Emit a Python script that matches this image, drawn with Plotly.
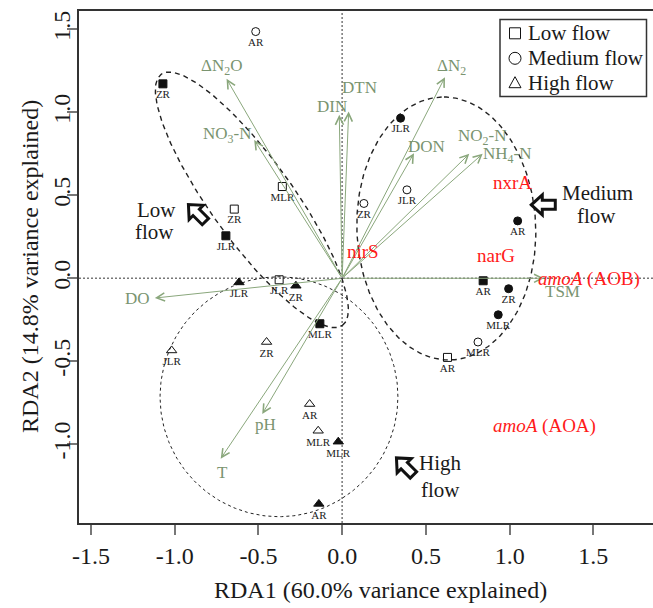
import numpy as np
import plotly.graph_objects as go

FONT = "Liberation Serif"
GREEN_TXT = "#7a9470"
GREEN_LN = "#8aa77c"

# ---------------- site scores ----------------
low_sites = ["ZR", "MLR", "ZR", "JLR", "JLR", "MLR", "AR", "AR"]
low_x = [-1.070, -0.357, -0.644, -0.694, -0.376, -0.133, 0.842, 0.629]
low_y = [1.172, 0.553, 0.417, 0.256, -0.009, -0.274, -0.015, -0.477]
low_filled = [True, False, False, True, False, True, True, False]

med_sites = ["AR", "JLR", "JLR", "ZR", "AR", "ZR", "MLR", "MLR"]
med_x = [-0.516, 0.349, 0.387, 0.130, 1.048, 0.994, 0.932, 0.811]
med_y = [1.487, 0.965, 0.533, 0.451, 0.346, -0.063, -0.220, -0.384]
med_filled = [False, True, False, False, True, True, True, False]

high_sites = ["JLR", "ZR", "JLR", "ZR", "AR", "MLR", "MLR", "AR"]
high_x = [-0.616, -0.276, -1.018, -0.451, -0.194, -0.143, -0.023, -0.139]
high_y = [-0.025, -0.045, -0.435, -0.384, -0.758, -0.919, -0.985, -1.360]
high_filled = [True, True, False, False, False, False, True, True]

# ---------------- environmental vectors ----------------
env_labels = ["ΔN<sub>2</sub>O", "NO<sub>3</sub>-N", "DIN", "DTN", "ΔN<sub>2</sub>", "DON",
              "NO<sub>2</sub>-N", "NH<sub>4</sub>-N", "DO", "pH", "T", "TSM"]
env_x = [-0.690, -0.525, -0.017, 0.039, 0.614, 0.429, 0.759, 0.839, -1.118, -0.477, -0.725, 1.205]
env_y = [1.202, 0.834, 0.985, 1.005, 1.212, 0.754, 0.750, 0.750, -0.119, -0.818, -1.087, 0.000]
env_lab_x = [-0.718, -0.688, -0.061, 0.106, 0.655, 0.506, 0.834, 0.985, -1.219, -0.455, -0.712, 1.318]
env_lab_y = [1.274, 0.864, 1.033, 1.148, 1.274, 0.792, 0.852, 0.744, -0.123, -0.882, -1.172, -0.081]

# ---------------- functional genes ----------------
sp_labels = ["nxrA", "nirS", "narG", "<i>amoA</i> (AOB)", "<i>amoA</i> (AOA)"]
sp_x = [1.020, 0.126, 0.916, 1.472, 1.211]
sp_y = [0.575, 0.161, 0.137, -0.003, -0.893]

# ---------------- group ellipses (cx, cy, a, b, angle) ----------------
ell_low = [-0.539, 0.473, 0.93, 0.246, -54.5]
ell_med = [0.622, 0.300, 0.793, 0.534, 92.0]
ell_high = [-0.377, -0.714, 0.710, 0.723, 0.0]

# ---------------- group call-outs ----------------
grp_text = [["Low", "flow"], ["Medium", "flow"], ["High", "flow"]]
grp_text_x = [[-1.106, -1.118], [1.523, 1.521], [0.589, 0.589]]
grp_text_y = [[0.413, 0.280], [0.513, 0.374], [-1.113, -1.274]]
grp_arrow_x = [-0.867, 1.201, 0.375]
grp_arrow_y = [0.393, 0.443, -1.134]
grp_arrow_dir = [135, 180, 135]

# ---------------- axes ----------------
x_range = [-1.571, 1.856]
y_range = [-1.475, 1.611]
x_ticks = [-1.5, -1.0, -0.5, 0.0, 0.5, 1.0, 1.5]
x_ticktext = ["-1.5", "-1.0", "-0.5", "0.0", "0.5", "1.0", "1.5"]
y_ticks = [-1.0, -0.5, 0.0, 0.5, 1.0, 1.5]
y_ticktext = ["-1.0", "-0.5", "0.0", "0.5", "1.0", "1.5"]
x_title = "RDA1 (60.0% variance explained)"
y_title = "RDA2 (14.8% variance explained)"
legend_items = ["Low flow", "Medium flow", "High flow"]

W, H = 653, 608
ML, MR, MT, MB = 79, 0, 11, 85

fig = go.Figure()


def ellipse(p, n=240):
    cx, cy, a, b, th = p
    t = np.linspace(0, 2 * np.pi, n)
    th = np.deg2rad(th)
    x = cx + a * np.cos(t) * np.cos(th) - b * np.sin(t) * np.sin(th)
    y = cy + a * np.cos(t) * np.sin(th) + b * np.sin(t) * np.cos(th)
    return x, y


for p, dash, w in [(ell_low, "5px,4px", 1.4), (ell_med, "5px,4px", 1.4), (ell_high, "3px,3px", 1.0)]:
    ex, ey = ellipse(p)
    fig.add_trace(go.Scatter(x=ex, y=ey, mode="lines", hoverinfo="skip", showlegend=False,
                             line=dict(color="#222", width=w, dash=dash)))

groups = [
    (low_sites, low_x, low_y, low_filled, "square", 8),
    (med_sites, med_x, med_y, med_filled, "circle", 8),
    (high_sites, high_x, high_y, high_filled, "triangle-up", 9),
]
for sites, xs, ys, filled, sym, sz in groups:
    for fl in (True, False):
        idx = [i for i, f in enumerate(filled) if f == fl]
        fig.add_trace(go.Scatter(
            x=[xs[i] for i in idx], y=[ys[i] for i in idx],
            text=[sites[i] for i in idx], mode="markers+text",
            textposition="bottom center",
            textfont=dict(family=FONT, size=11, color="#222"),
            marker=dict(symbol=sym if fl else sym + "-open", size=sz,
                        color="#111", line=dict(color="#111", width=1)),
            showlegend=False, cliponaxis=False))

annotations = []
# environmental arrows
for lab, x, y, lx, ly in zip(env_labels, env_x, env_y, env_lab_x, env_lab_y):
    annotations.append(dict(x=x, y=y, ax=0, ay=0, xref="x", yref="y", axref="x", ayref="y",
                            text="", showarrow=True, arrowhead=5, arrowsize=1.6,
                            arrowwidth=1, arrowcolor=GREEN_LN))
    annotations.append(dict(x=lx, y=ly, xref="x", yref="y", text=lab, showarrow=False,
                            font=dict(family=FONT, size=17, color=GREEN_TXT)))
# genes
for lab, x, y in zip(sp_labels, sp_x, sp_y):
    annotations.append(dict(x=x, y=y, xref="x", yref="y", text=lab, showarrow=False,
                            font=dict(family=FONT, size=19, color="#ff1a1a")))
# group text
for lines, xs, ys in zip(grp_text, grp_text_x, grp_text_y):
    for t, x, y in zip(lines, xs, ys):
        annotations.append(dict(x=x, y=y, xref="x", yref="y", text=t, showarrow=False,
                                font=dict(family=FONT, size=21, color="#1a1a1a")))

# axis titles
annotations.append(dict(x=(380 - ML) / (W - ML - MR), y=(H - MB - 590) / (H - MT - MB),
                        xref="paper", yref="paper", text=x_title, showarrow=False,
                        xanchor="center", yanchor="middle",
                        font=dict(family=FONT, size=24, color="#1a1a1a")))
annotations.append(dict(x=(30 - ML) / (W - ML - MR), y=0.5, xref="paper", yref="paper",
                        text=y_title, showarrow=False, textangle=-90,
                        xanchor="center", yanchor="middle",
                        font=dict(family=FONT, size=24, color="#1a1a1a")))

shapes = []
# zero lines
shapes.append(dict(type="line", xref="x", yref="paper", x0=0, x1=0, y0=0, y1=1,
                   line=dict(color="#777", width=1.5, dash="2px,2px"), layer="below"))
shapes.append(dict(type="line", xref="paper", yref="y", x0=0, x1=1, y0=0, y1=0,
                   line=dict(color="#777", width=1.5, dash="2px,2px"), layer="below"))

# block arrows for group call-outs
base = np.array([[12, 0], [1, 10], [1, 4.5], [-12, 4.5], [-12, -4.5], [1, -4.5], [1, -10]], float)
for cx, cy, ang in zip(grp_arrow_x, grp_arrow_y, grp_arrow_dir):
    r = np.deg2rad(ang)
    R = np.array([[np.cos(r), -np.sin(r)], [np.sin(r), np.cos(r)]])
    pts = base @ R.T
    path = "M" + " L".join(f"{px:.2f},{py:.2f}" for px, py in pts) + " Z"
    shapes.append(dict(type="path", xref="x", yref="y", xsizemode="pixel", ysizemode="pixel",
                       xanchor=cx, yanchor=cy, path=path, fillcolor="white",
                       line=dict(color="#111", width=3)))

# legend box
pw, ph = W - ML - MR, H - MT - MB
def px2paper_x(px):
    return (px - ML) / pw
def py2paper_y(py):
    return (H - MB - py) / ph

shapes.append(dict(type="rect", xref="paper", yref="paper",
                   x0=px2paper_x(500), x1=px2paper_x(646.5), y0=py2paper_y(96.5), y1=py2paper_y(19.5),
                   line=dict(color="#333", width=1.5), fillcolor="white"))
leg_rows = [33.3, 58.3, 82.7]
sym_x = px2paper_x(515)
for i, (name, ry) in enumerate(zip(legend_items, leg_rows)):
    yy = py2paper_y(ry)
    if i == 0:
        shapes.append(dict(type="rect", xref="paper", yref="paper", xsizemode="pixel", ysizemode="pixel",
                           xanchor=sym_x, yanchor=yy, x0=-5.5, x1=5.5, y0=-5.5, y1=5.5,
                           line=dict(color="#111", width=1)))
    elif i == 1:
        shapes.append(dict(type="circle", xref="paper", yref="paper", xsizemode="pixel", ysizemode="pixel",
                           xanchor=sym_x, yanchor=yy, x0=-6, x1=6, y0=-6, y1=6,
                           line=dict(color="#111", width=1)))
    else:
        shapes.append(dict(type="path", xref="paper", yref="paper", xsizemode="pixel", ysizemode="pixel",
                           xanchor=sym_x, yanchor=yy, path="M-6,-5 L6,-5 L0,6 Z",
                           line=dict(color="#111", width=1)))
    annotations.append(dict(x=px2paper_x(526), y=yy, xref="paper", yref="paper", text=name,
                            xanchor="left", yanchor="middle", showarrow=False,
                            font=dict(family=FONT, size=21, color="#1a1a1a")))

fig.update_layout(
    width=W, height=H, margin=dict(l=ML, r=MR, t=MT, b=MB, autoexpand=False),
    paper_bgcolor="white", plot_bgcolor="white", showlegend=False,
    annotations=annotations, shapes=shapes,
    font=dict(family=FONT),
    xaxis=dict(range=x_range, tickvals=x_ticks, ticktext=x_ticktext, showgrid=False, zeroline=False,
               showline=True, mirror=True, linecolor="#333", linewidth=1.5,
               ticks="outside", ticklen=10, tickcolor="#777", tickwidth=1.5,
               tickfont=dict(family=FONT, size=24, color="#1a1a1a")),
    yaxis=dict(range=y_range, tickvals=y_ticks, ticktext=y_ticktext, showgrid=False, zeroline=False,
               showline=True, linecolor="#333", linewidth=1.5, tickangle=-90,
               ticklabelstandoff=-12,
               ticks="outside", ticklen=10, tickcolor="#777", tickwidth=1.5,
               tickfont=dict(family=FONT, size=24, color="#1a1a1a")),
)

fig.write_html("out.html")
